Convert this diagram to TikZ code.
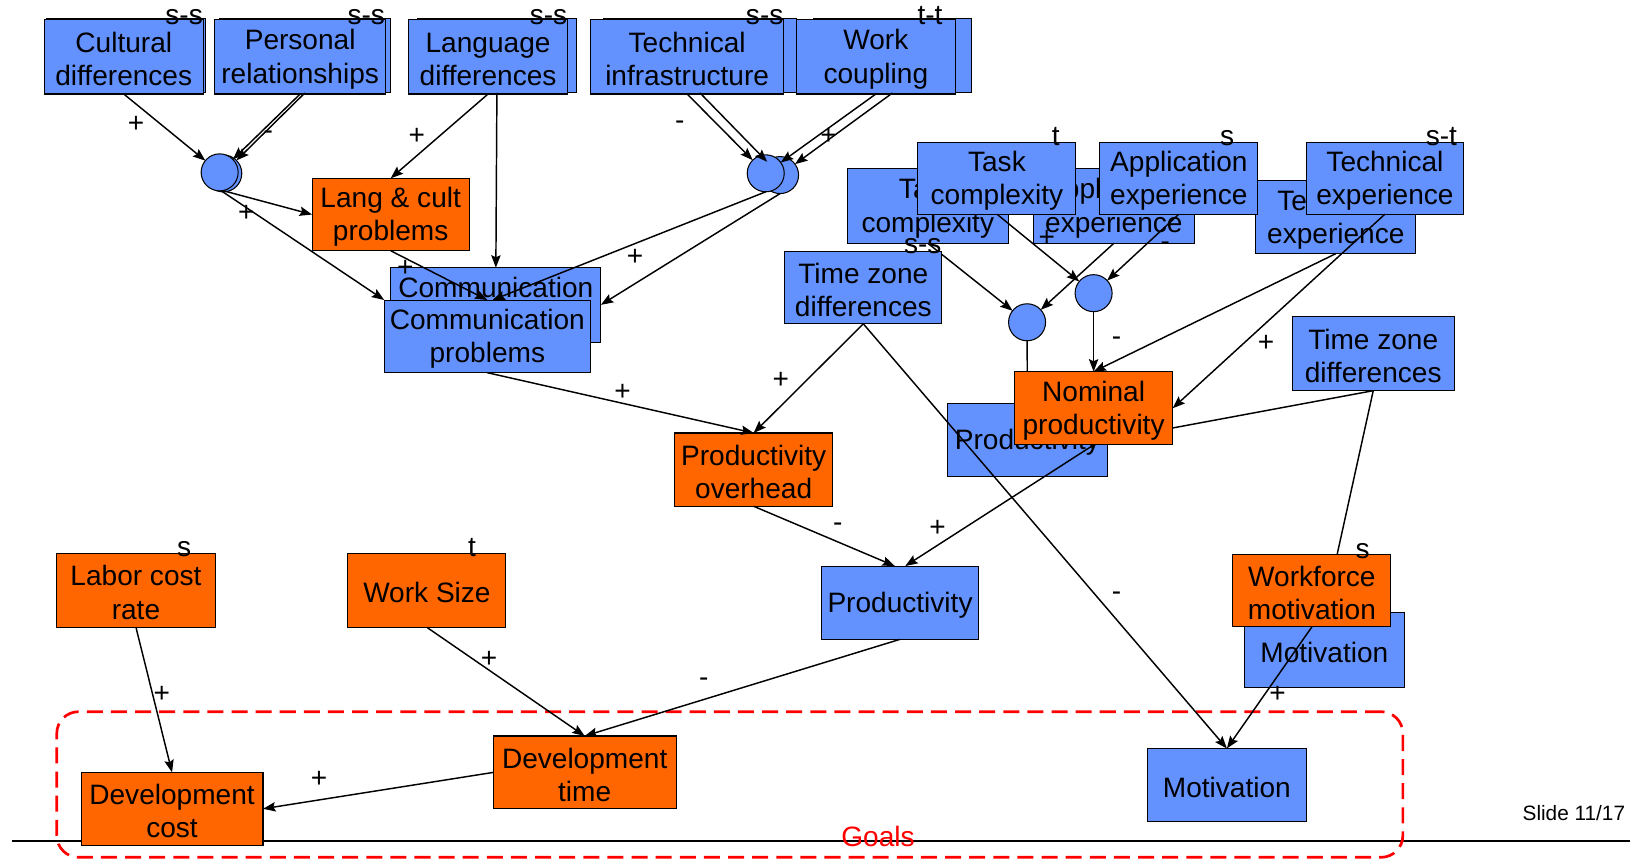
\documentclass[tikz,border=0pt]{standalone}
\usepackage{fontspec}
\setmainfont{Liberation Sans}
\usetikzlibrary{arrows.meta,calc}
\definecolor{bbl}{RGB}{99,146,255}
\definecolor{orn}{RGB}{255,102,0}
\definecolor{gred}{RGB}{255,0,0}
\newcommand\mkbox[7]{%
  \node[#6, minimum width={(#4-#2)*0.5pt}, minimum height={(#5-#3)*0.5pt}] (#1) at ({(#2+#4)/2},{(#3+#5)/2}) {};
  \node[boxtxt] (#1-t) at ($(#1.center)+(0,2.2)$) {#7};}
\tikzset{
  basebox/.style={draw=black, line width=0.5pt, inner sep=0pt, outer sep=0pt},
  boxtxt/.style={inner sep=0pt, outer sep=0pt, align=center, font=\fontsize{13.5}{16}\selectfont},
  blbox/.style={basebox, fill=bbl},
  orbox/.style={basebox, fill=orn},
  cir/.style={circle, draw=black, line width=0.5pt, fill=bbl, minimum size=17.8pt, inner sep=0pt, outer sep=0pt},
  arr/.style={-{Stealth[length=6pt,width=4.5pt,inset=1pt]}, line width=0.7pt},
  sg/.style={font=\fontsize{13.5}{16}\selectfont, inner sep=0pt},
  tg/.style={font=\fontsize{13.5}{16}\selectfont, inner sep=0pt, anchor=base east},
  goalsbox/.style={draw=gred, line width=1.3pt, dash pattern=on 7.7pt off 3.9pt, rounded corners=10.5pt, inner sep=0pt, outer sep=0pt},
}
\begin{document}
\begin{tikzpicture}[x=0.5pt,y=-0.5pt]
\useasboundingbox (0,0) rectangle (1568,827);
% bottom rule
\coordinate (hlL) at (12,809);
\coordinate (hlR) at (1568,809);
\draw[line width=0.8pt] (hlL) -- (hlR);
% goals frame
\node[goalsbox, minimum width={(1349.5-54.6)*0.5pt}, minimum height={(824.7-684.6)*0.5pt}] (goals) at ({(54.6+1349.5)/2},{(684.6+824.7)/2}) {};
% back boxes
\mkbox{cultB}{45.1}{18.2}{198}{89.4}{blbox}{}
\mkbox{persB}{211.3}{18.2}{375.2}{89.4}{blbox}{}
\mkbox{langB}{401.5}{18.2}{554.5}{89.4}{blbox}{}
\mkbox{techB}{580.4}{18.2}{766.4}{89.4}{blbox}{}
\mkbox{workB}{782.4}{18.2}{934.7}{89.4}{blbox}{}
\mkbox{commB}{376}{257.5}{578}{329}{blbox}{Communication\\problems}
\mkbox{taskB}{815}{162}{970}{234}{blbox}{Task\\complexity}
\mkbox{appB}{994}{162}{1149}{234}{blbox}{Application\\experience}
\mkbox{texB}{1208}{174}{1362}{244}{blbox}{Technical\\experience}
\mkbox{prodB}{911}{388}{1065.6}{458.6}{blbox}{Productivity}
\mkbox{motBk}{1197}{589}{1351}{661}{blbox}{Motivation}
\mkbox{tzR}{1243}{304.6}{1399}{375.8}{blbox}{Time zone\\differences}
% circles
\node[cir] (c1b) at (214.8,166.8) {};
\node[cir] (c1) at (211.3,165.8) {};
\node[cir] (c2b) at (750.4,168.4) {};
\node[cir] (c2) at (736.6,166.7) {};
\node[cir] (cA) at (988,310) {};
\node[cir] (cB) at (1052,282) {};
% partly hidden connectors
\draw[arr] (cA) -- (prodB.north);
\draw[arr] (tzR.south) -- (prodB.east);
\draw[arr] (tzR.south) -- (motBk.north);
\draw[arr] (taskB.south) -- (cA);
% front boxes
\mkbox{cultF}{42.6}{19.2}{195.5}{90.4}{blbox}{Cultural\\differences}
\mkbox{persF}{206.8}{19.2}{370.7}{90.4}{blbox}{Personal\\relationships}
\mkbox{langF}{393}{19.2}{546}{90.4}{blbox}{Language\\differences}
\mkbox{techF}{568}{19.2}{754}{90.4}{blbox}{Technical\\infrastructure}
\mkbox{workF}{766.4}{19.2}{918.7}{90.4}{blbox}{Work\\coupling}
\mkbox{lc}{300.2}{171.5}{451.5}{241.2}{orbox}{Lang \& cult\\problems}
\mkbox{commF}{369.6}{288.6}{568}{358.5}{blbox}{Communication\\problems}
\mkbox{po}{649}{416.5}{801}{487}{orbox}{Productivity\\overhead}
\mkbox{tzM}{755}{242}{906}{311.5}{blbox}{Time zone\\differences}
\mkbox{taskF}{883}{137}{1035}{206}{blbox}{Task\\complexity}
\mkbox{appF}{1058}{137}{1210}{206}{blbox}{Application\\experience}
\mkbox{texF}{1256.5}{137}{1408}{206}{blbox}{Technical\\experience}
\mkbox{nom}{976}{357.5}{1128}{428}{orbox}{Nominal\\productivity}
\mkbox{prodL}{790}{544.5}{941.6}{615}{blbox}{Productivity}
\mkbox{wm}{1186}{533}{1338}{603}{orbox}{Workforce\\motivation}
\mkbox{motG}{1104}{720}{1256.4}{790}{blbox}{Motivation}
\mkbox{lcr}{54.6}{532}{207}{603.5}{orbox}{Labor cost\\rate}
\mkbox{ws}{334.7}{532}{486.7}{603.5}{orbox}{Work Size}
\mkbox{dc}{78}{743}{253}{813}{orbox}{Development\\cost}
\mkbox{dt}{474.6}{708}{650.3}{778}{orbox}{Development\\time}
% connectors
\draw[arr] (cultF.south) -- (c1);
\draw[arr] (persF.south) -- (c1);
\draw[arr] (persB.south) -- (c1b);
\draw[arr] (techF.south) -- (c2);
\draw[arr] (techB.south) -- (c2b);
\draw[arr] (workF.south) -- (c2);
\draw[arr] (workB.south) -- (c2b);
\draw[arr] (langF.south) -- (lc.north);
\draw[arr] (langB.south) -- (commB.north);
\draw[arr] (c1.-80) -- (lc.west);
\draw[arr] (c1.-85) -- (commF.north west);
\draw[arr] (lc.south) -- (commF.north);
\draw[arr] (c2.south) -- ($(commF.north)+(5,0)$);
\draw[arr] (c2b.south) -- (commB.east);
\draw[arr] (commF.south) -- (po.north);
\draw[arr] (tzM.south) -- (po.north);
\draw[arr] (tzM.south) -- (motG.north);
\draw[arr] (taskF.south) -- (cB);
\draw[arr] (appB.south) -- (cA);
\draw[arr] (appF.south) -- (cB);
\draw[arr] (cB) -- (nom.north);
\draw[arr] (texB.south) -- (nom.north);
\draw[arr] (texF.south) -- (nom.east);
\draw[arr] (po.south) -- ($(prodL.north)+(-5,0)$);
\draw[arr] (nom.south) -- ($(prodL.north)+(5,0)$);
\draw[arr] (prodL.south) -- (dt.north);
\draw[arr] (ws.south) -- (dt.north);
\draw[arr] (lcr.south) -- (dc.north);
\draw[arr] (dt.west) -- (dc.east);
\draw[arr] (wm.south) -- (motG.north);
% signs
\node[sg] (s1) at (131,120) {+};
\node[sg] (s2) at (258,130) {-};
\node[sg] (s3) at (401,131) {+};
\node[sg] (s4) at (237,205) {+};
\node[sg] (s5) at (390,258) {+};
\node[sg] (s6) at (654,120) {-};
\node[sg] (s7) at (797,131) {+};
\node[sg] (s8) at (611,248) {+};
\node[sg] (s9) at (599,377) {+};
\node[sg] (s10) at (751,366) {+};
\node[sg] (s11) at (806,507) {-};
\node[sg] (s12) at (902,508) {+};
\node[sg] (s13) at (677,656) {-};
\node[sg] (s14) at (1074,574) {-};
\node[sg] (s15) at (1229,668) {+};
\node[sg] (s16) at (155.6,668) {+};
\node[sg] (s17) at (470.5,634) {+};
\node[sg] (s18) at (307,750) {+};
\node[sg] (s19) at (1007,229) {+};
\node[sg] (s20) at (1121,237) {-};
\node[sg] (s21) at (1074,328) {-};
\node[sg] (s22) at (1218,330) {+};
% tags
\node[tg] (t1) at (195.5,24) {s-s};
\node[tg] (t2) at (370.7,24) {s-s};
\node[tg] (t3) at (546,24) {s-s};
\node[tg] (t4) at (754,24) {s-s};
\node[tg] (t5) at (907,24) {t-t};
\node[tg] (t6) at (1019.7,140) {t};
\node[tg] (t7) at (1187.7,140) {s};
\node[tg] (t8) at (1402,140) {s-t};
\node[tg] (t9) at (906,244) {s-s};
\node[tg] (t10) at (184.3,535.5) {s};
\node[tg] (t11) at (458.3,535.5) {t};
\node[tg] (t12) at (1318,537) {s};
% goals and slide number
\node[sg, text=gred] (goalt) at (844.6,805) {Goals};
\node[inner sep=0pt, font=\fontsize{10}{12}\selectfont] (slide) at (1514,782) {Slide 11/17};
\end{tikzpicture}
\end{document}
